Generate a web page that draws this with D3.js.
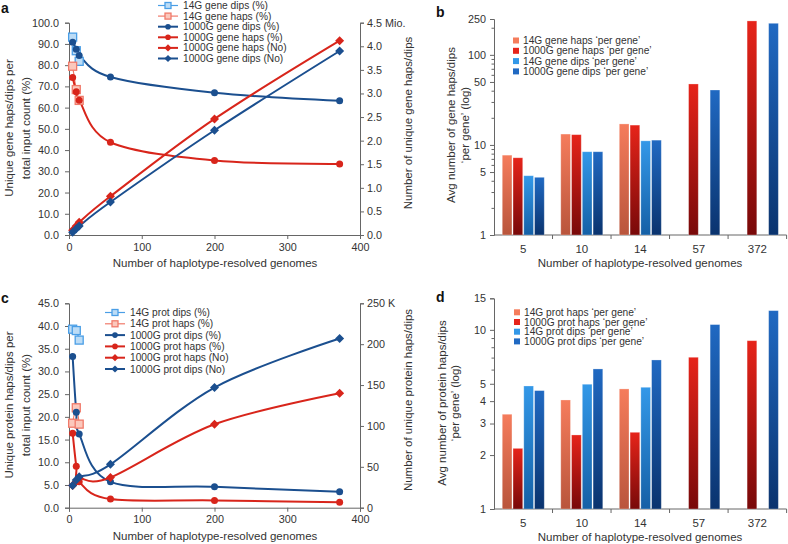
<!DOCTYPE html>
<html><head><meta charset="utf-8">
<script src="https://cdn.jsdelivr.net/npm/d3@7"></script>
<style>
body{margin:0;background:#fff;}
text{font-family:"Liberation Sans",Arial,Helvetica,sans-serif;fill:#333;}
.axis path,.axis line{stroke:#666;stroke-width:1;}
.axis text{font-size:10.8px;fill:#333;}
</style></head><body>
<svg id="chart" width="788" height="544"></svg>
<script>
// ---------- DATA ----------
const genomes = [5, 10, 14, 57, 200, 372];
const genomes14 = [5, 10, 14];
// panel a (%) left axis, (No) right axis in millions
const geneDips14Pct   = [93.2, 86.8, 81.8];
const geneHaps14Pct   = [79.5, 68.5, 63.4];
const geneDips1000Pct = [90.8, 87.5, 84.6, 74.4, 67.0, 63.2];
const geneHaps1000Pct = [74.2, 67.5, 63.5, 43.7, 35.1, 33.5];
const geneHaps1000No  = [0.10, 0.19, 0.27, 0.82, 2.46, 4.12];
const geneDips1000No  = [0.06, 0.13, 0.19, 0.70, 2.22, 3.90];
// panel c (%) left axis, (No) right axis in thousands
const protDips14Pct   = [39.3, 39.0, 36.9];
const protHaps14Pct   = [18.6, 22.0, 18.4];
const protDips1000Pct = [33.3, 21.0, 16.2, 5.7, 4.6, 3.5];
const protHaps1000Pct = [16.4, 9.1, 5.7, 1.9, 1.6, 1.2];
const protHaps1000No  = [27, 32, 36, 37, 102, 140];
const protDips1000No  = [27, 34, 38, 53, 147, 207];
// bar panels
const barCategories = ["5", "10", "14", "57", "372"];
const geneHaps14PerGene   = [7.7, 13.2, 17.1, null, null];
const geneHaps1000PerGene = [7.2, 13.0, 16.6, 47.5, 238];
const geneDips14PerGene   = [4.55, 8.4, 11.1, null, null];
const geneDips1000PerGene = [4.37, 8.4, 11.3, 40.7, 224];
const protHaps14PerGene   = [3.38, 4.06, 4.68, null, null];
const protHaps1000PerGene = [2.18, 2.59, 2.68, 7.03, 8.7];
const protDips14PerGene   = [4.86, 4.97, 4.78, null, null];
const protDips1000PerGene = [4.58, 6.05, 6.79, 10.7, 12.8];
// ticks
const xTicksLine = [0, 100, 200, 300, 400];
const aLeftTicks = [0,10,20,30,40,50,60,70,80,90,100];
const aRightTicks = [0,0.5,1,1.5,2,2.5,3,3.5,4,4.5];
const cLeftTicks = [0,5,10,15,20,25,30,35,40,45];
const cRightTicks = [0,50,100,150,200,250];
const bLogTicksLabeled = [1,5,10,50,100,250];
const bLogTicksAll = [1,2,3,4,5,6,7,8,9,10,20,30,40,50,60,70,80,90,100,200,250];
const dLogTicksLabeled = [1,2,3,4,5,10,15];
const dLogTicksAll = [1,2,3,4,5,6,7,8,9,10,15];

// ---------- STYLE ----------
const DARKBLUE = "#1b4f8f", RED = "#d8251b";
const LBLUE = "#4a9ee6", LBLUEFILL = "#bcdcf6", SALMON = "#f07a6a", SALMONFILL = "#fbc8bc";
const svg = d3.select("#chart");
const defs = svg.append("defs");
const grads = {
  h14: ["#f57c5c", "#b9553c"],
  h1000: ["#e6241a", "#780909"],
  d14: ["#3398e8", "#1560a6"],
  d1000: ["#2069c2", "#0a336e"]
};
Object.entries(grads).forEach(([k, c]) => {
  const g = defs.append("linearGradient").attr("id", "g_" + k).attr("x1", 0).attr("y1", 0).attr("x2", 0).attr("y2", 1);
  g.append("stop").attr("offset", "0%").attr("stop-color", c[0]);
  g.append("stop").attr("offset", "100%").attr("stop-color", c[1]);
});

function panelLabel(t, x, y) {
  svg.append("text").attr("x", x).attr("y", y).text(t)
    .style("font-size", "14px").style("font-weight", "bold").style("fill", "#111");
}
function rotTitle(lines, cx, cy, gap) {
  lines.forEach((l, i) => {
    svg.append("text").attr("transform", `translate(${cx + i * gap},${cy}) rotate(-90)`)
      .attr("text-anchor", "middle").attr("dy", "0.35em").style("font-size", "11.5px").text(l);
  });
}

function linePanel(cfg) {
  const x = d3.scaleLinear().domain([0, 400]).range([69, 360]);
  const yL = d3.scaleLinear().domain([0, cfg.lmax]).range([cfg.y0, cfg.y1]);
  const yR = d3.scaleLinear().domain([0, cfg.rmax]).range([cfg.y0, cfg.y1]);
  svg.append("g").attr("class", "axis").attr("transform", `translate(69,0)`)
    .call(d3.axisLeft(yL).tickValues(cfg.lticks).tickFormat(d3.format(".1f")).tickSizeOuter(0).tickSize(4).tickPadding(6));
  svg.append("g").attr("class", "axis").attr("transform", `translate(360,0)`)
    .call(d3.axisRight(yR).tickValues(cfg.rticks).tickFormat(cfg.rfmt).tickSizeOuter(0).tickSize(4).tickPadding(3));
  svg.append("g").attr("class", "axis").attr("transform", `translate(0,${cfg.y0})`)
    .call(d3.axisBottom(x).tickValues(xTicksLine).tickSizeOuter(0).tickSize(4).tickPadding(4));
  svg.append("text").attr("x", 215).attr("y", cfg.y0 + 32).attr("text-anchor", "middle")
    .style("font-size", "11.5px").text("Number of haplotype-resolved genomes");
  const curve = d3.curveCardinal.tension(0);
  const series = cfg.series;
  series.forEach(s => {
    const ys = s.axis === "L" ? yL : yR;
    const pts = s.xs.map((xv, i) => [x(xv), ys(s.vals[i])]);
    svg.append("path").attr("d", d3.line().curve(curve)(pts))
      .attr("fill", "none").attr("stroke", s.color).attr("stroke-width", s.width);
  });
  series.forEach(s => {
    const ys = s.axis === "L" ? yL : yR;
    s.xs.forEach((xv, i) => drawMarker(x(xv), ys(s.vals[i]), s));
  });
  // legend
  series.slice().forEach((s, i) => {
    const ly = cfg.legY + i * cfg.legGap;
    svg.append("line").attr("x1", cfg.legX).attr("x2", cfg.legX + 20).attr("y1", ly).attr("y2", ly)
      .attr("stroke", s.color).attr("stroke-width", s.width);
    drawMarker(cfg.legX + 10, ly, s, true);
    svg.append("text").attr("x", cfg.legX + 25).attr("y", ly).attr("dy", "0.35em")
      .style("font-size", "10.2px").text(s.name);
  });
}
function drawMarker(cx, cy, s, small) {
  if (s.marker === "square") {
    const h = small ? 3 : 4;
    svg.append("rect").attr("x", cx - h).attr("y", cy - h).attr("width", 2 * h).attr("height", 2 * h)
      .attr("fill", s.fill).attr("stroke", s.color).attr("stroke-width", 1.3);
  } else if (s.marker === "circle") {
    svg.append("circle").attr("cx", cx).attr("cy", cy).attr("r", small ? 2.8 : 3.5).attr("fill", s.color);
  } else {
    const r = small ? 3.6 : 4.5;
    svg.append("path").attr("d", `M${cx},${cy - r}L${cx + r},${cy}L${cx},${cy + r}L${cx - r},${cy}Z`).attr("fill", s.color);
  }
}

// ---------- PANEL a ----------
panelLabel("a", 1, 13);
linePanel({
  y0: 235, y1: 22.7, lmax: 100, rmax: 4.5, lticks: aLeftTicks, rticks: aRightTicks,
  rfmt: d => d === 4.5 ? "4.5 Mio." : d3.format(".1f")(d),
  legX: 158, legY: 5.5, legGap: 10.6,
  series: [
    { name: "14G gene dips (%)", xs: genomes14, vals: geneDips14Pct, axis: "L", color: LBLUE, fill: LBLUEFILL, marker: "square", width: 1.2 },
    { name: "14G gene haps (%)", xs: genomes14, vals: geneHaps14Pct, axis: "L", color: SALMON, fill: SALMONFILL, marker: "square", width: 1.2 },
    { name: "1000G gene dips (%)", xs: genomes, vals: geneDips1000Pct, axis: "L", color: DARKBLUE, marker: "circle", width: 2 },
    { name: "1000G gene haps (%)", xs: genomes, vals: geneHaps1000Pct, axis: "L", color: RED, marker: "circle", width: 2 },
    { name: "1000G gene haps (No)", xs: genomes, vals: geneHaps1000No, axis: "R", color: RED, marker: "diamond", width: 2 },
    { name: "1000G gene dips (No)", xs: genomes, vals: geneDips1000No, axis: "R", color: DARKBLUE, marker: "diamond", width: 2 }
  ]
});
rotTitle(["Unique gene haps/dips per", "total input count (%)"], 9, 128, 17);
rotTitle(["Number of unique gene haps/dips"], 408, 123, 0);

// ---------- PANEL c ----------
panelLabel("c", 1, 303);
linePanel({
  y0: 507.7, y1: 303.3, lmax: 45, rmax: 250, lticks: cLeftTicks, rticks: cRightTicks,
  rfmt: d => d === 250 ? "250 K" : d3.format("d")(d),
  legX: 105, legY: 312.5, legGap: 11.3,
  series: [
    { name: "14G prot dips (%)", xs: genomes14, vals: protDips14Pct, axis: "L", color: LBLUE, fill: LBLUEFILL, marker: "square", width: 1.2 },
    { name: "14G prot haps (%)", xs: genomes14, vals: protHaps14Pct, axis: "L", color: SALMON, fill: SALMONFILL, marker: "square", width: 1.2 },
    { name: "1000G prot dips (%)", xs: genomes, vals: protDips1000Pct, axis: "L", color: DARKBLUE, marker: "circle", width: 2 },
    { name: "1000G prot haps (%)", xs: genomes, vals: protHaps1000Pct, axis: "L", color: RED, marker: "circle", width: 2 },
    { name: "1000G prot haps (No)", xs: genomes, vals: protHaps1000No, axis: "R", color: RED, marker: "diamond", width: 2 },
    { name: "1000G prot dips (No)", xs: genomes, vals: protDips1000No, axis: "R", color: DARKBLUE, marker: "diamond", width: 2 }
  ]
});
rotTitle(["Unique protein haps/dips per", "total input count (%)"], 9, 405, 17);
rotTitle(["Number of unique protein haps/dips"], 408, 400, 0);

// ---------- BAR PANELS ----------
function barPanel(cfg) {
  const x0 = d3.scaleBand().domain(barCategories).range([494, 786.6]);
  const keys = ["h14", "h1000", "d14", "d1000"];
  const x1 = d3.scaleBand().domain(keys).range([0, 42]).paddingInner(0.1);
  const off = (x0.bandwidth() - 42) / 2;
  const y = d3.scaleLog().domain([1, cfg.ymax]).range([cfg.y0, cfg.y1]);
  const ax = svg.append("g").attr("class", "axis").attr("transform", "translate(494,0)")
    .call(d3.axisLeft(y).tickValues(cfg.allTicks).tickFormat(d => cfg.labTicks.includes(d) ? d : "").tickSizeOuter(0).tickSize(4).tickPadding(4));
  ax.selectAll(".tick").filter(d => !cfg.labTicks.includes(d)).select("line").attr("x2", -2.5);
  // x axis with ticks at category boundaries
  const xa = svg.append("g").attr("class", "axis").attr("transform", `translate(0,${cfg.y0})`);
  xa.append("line").attr("x1", 494).attr("x2", 786.6).attr("stroke", "#666");
  barCategories.forEach(c => {
    xa.append("line").attr("x1", x0(c) + x0.bandwidth()).attr("x2", x0(c) + x0.bandwidth()).attr("y1", 0).attr("y2", 4).attr("stroke", "#666");
    xa.append("text").attr("x", x0(c) + x0.bandwidth() / 2).attr("y", 18).attr("text-anchor", "middle").style("font-size", "11.5px").text(c);
  });
  svg.append("text").attr("x", 640).attr("y", cfg.y0 + 32).attr("text-anchor", "middle")
    .style("font-size", "11.5px").text("Number of haplotype-resolved genomes");
  keys.forEach((k, si) => {
    cfg.data[si].forEach((v, i) => {
      if (v == null) return;
      const bx = x0(barCategories[i]) + off + x1(k);
      svg.append("rect").attr("x", bx).attr("y", y(v)).attr("width", x1.bandwidth()).attr("height", cfg.y0 - y(v))
        .attr("fill", `url(#g_${k})`).attr("stroke", "rgba(255,255,255,0.35)").attr("stroke-width", 0.8);
    });
  });
  cfg.legend.forEach((t, i) => {
    const ly = cfg.legY + i * cfg.legGap;
    svg.append("rect").attr("x", cfg.legX).attr("y", ly - 3).attr("width", 6).attr("height", 6).attr("fill", grads[keys[i]][0]);
    svg.append("text").attr("x", cfg.legX + 10).attr("y", ly).attr("dy", "0.35em").style("font-size", "10.2px").text(t);
  });
}

panelLabel("b", 436, 17);
barPanel({
  y0: 235, y1: 19, ymax: 250, allTicks: bLogTicksAll, labTicks: bLogTicksLabeled,
  data: [geneHaps14PerGene, geneHaps1000PerGene, geneDips14PerGene, geneDips1000PerGene],
  legend: ["14G gene haps \u2018per gene\u2019", "1000G gene haps \u2018per gene\u2019", "14G gene dips \u2018per gene\u2019", "1000G gene dips \u2018per gene\u2019"],
  legX: 513, legY: 40.5, legGap: 10.3
});
rotTitle(["Avg number of gene haps/dips", "\u2018per gene\u2019 (log)"], 451, 125, 14);

panelLabel("d", 436, 302);
barPanel({
  y0: 509, y1: 298.3, ymax: 15, allTicks: dLogTicksAll, labTicks: dLogTicksLabeled,
  data: [protHaps14PerGene, protHaps1000PerGene, protDips14PerGene, protDips1000PerGene],
  legend: ["14G prot haps \u2018per gene\u2019", "1000G prot haps \u2018per gene\u2019", "14G prot dips \u2018per gene\u2019", "1000G prot dips \u2018per gene\u2019"],
  legX: 514, legY: 312.3, legGap: 9.7
});
rotTitle(["Avg number of protein haps/dips", "\u2018per gene\u2019 (log)"], 442, 403, 13);
</script></body></html>
